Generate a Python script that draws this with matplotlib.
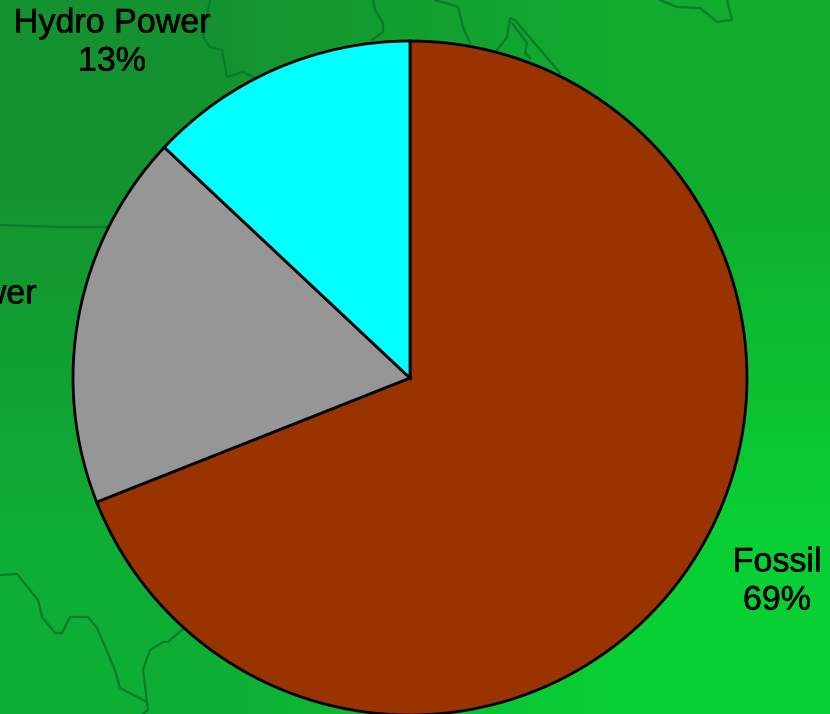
import matplotlib
matplotlib.use("Agg")
import matplotlib.pyplot as plt
import matplotlib.patheffects as pe
import numpy as np

labels = ["Fossil", "Nuclear Power", "Hydro Power"]
shares = [69, 18, 13]
colors = ["#993300", "#969696", "#00FFFF"]

# state borders on the backdrop map, x and y in pixels from the top left
borders = [
    [(373, 0), (375, 10), (383, 23), (383, 32), (372, 40)],
    [(435, 0), (458, 7), (463, 27), (470, 43)],
    [(497, 50), (507, 37), (510, 18), (515, 20), (560, 73)],
    [(512, 23), (527, 43), (525, 53), (530, 58)],
    [(660, 0), (677, 7), (700, 8), (717, 22), (732, 20), (727, 0)],
    [(210, 0), (203, 37), (210, 47), (222, 50), (227, 77), (243, 72), (253, 77)],
    [(0, 225), (57, 227), (107, 227)],
    [(0, 575), (17, 574), (38, 600), (42, 617), (55, 633), (62, 633), (70, 617),
     (88, 617), (97, 628), (115, 670), (120, 688), (147, 702), (148, 710), (143, 714)],
    [(147, 702), (143, 670), (150, 650), (163, 642), (168, 642), (182, 630)],
]

fig = plt.figure(figsize=(8.30, 7.14), dpi=100)
ax = fig.add_axes([0, 0, 1, 1])

# green backdrop, darker at the top left and brighter at the bottom right
corners = np.array([[[20, 146, 48], [17, 172, 46]],
                    [[14, 174, 53], [8, 208, 52]]]) / 255
ax.imshow(corners, extent=(0, 830, 0, 714), origin="upper",
          interpolation="bilinear", aspect="auto", zorder=0)

for path in borders:
    xs = [p[0] for p in path]
    ys = [714 - p[1] for p in path]
    ax.plot(xs, ys, color="#0B7A2A", lw=1.6, zorder=1)

ax.pie(shares, colors=colors, startangle=90, counterclock=False,
       center=(410, 336), radius=337, frame=True,
       wedgeprops={"edgecolor": "black", "linewidth": 2.0, "zorder": 2})

ax.set_xlim(0, 830)
ax.set_ylim(0, 714)
ax.axis("off")

font = {"family": "Liberation Sans", "fontsize": 24.5, "color": "black",
        "ha": "center", "va": "center", "linespacing": 1.3, "zorder": 3,
        "path_effects": [pe.withStroke(linewidth=0.4, foreground="black")]}
ax.text(777, 132, f"{labels[0]}\n{shares[0]}%", **font)
ax.text(-75, 400, f"{labels[1]}\n{shares[1]}%", clip_on=True, **font)
ax.text(112, 671, f"{labels[2]}\n{shares[2]}%", **font)

fig.savefig("out.png", dpi=100)
